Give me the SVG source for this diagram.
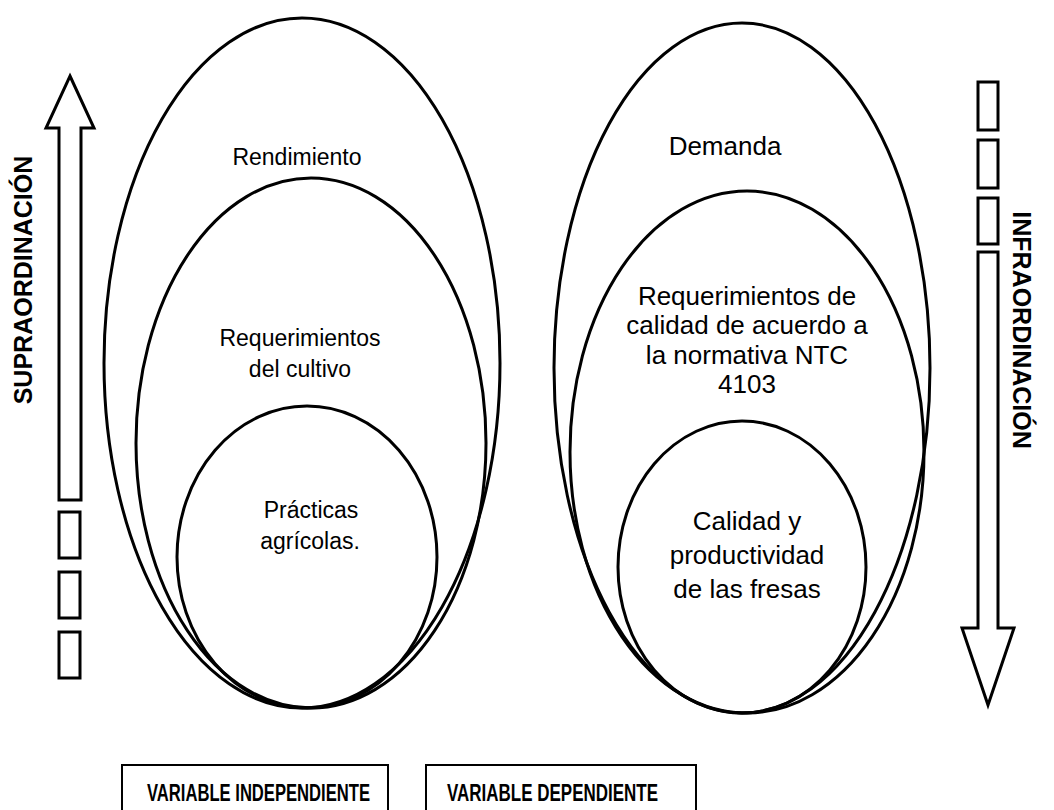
<svg xmlns="http://www.w3.org/2000/svg" width="1054" height="810" viewBox="0 0 1054 810">
<style>
.e{fill:none;stroke:#000;stroke-width:3}
.o{fill:#fff;stroke:#000;stroke-width:3}
.tl{font-family:"Liberation Sans",Arial,sans-serif;font-size:23px;fill:#000;text-anchor:middle}
.tr{font-family:"Liberation Sans",Arial,sans-serif;font-size:26px;fill:#000;text-anchor:middle}
.b{font-family:"Liberation Sans",Arial,sans-serif;font-size:25px;font-weight:bold;fill:#000;text-anchor:middle}
.v{font-family:"Liberation Sans",Arial,sans-serif;font-size:24px;font-weight:bold;fill:#000}
</style>
<rect width="1054" height="810" fill="#fff"/>
<g id="left-set">
<ellipse class="e" cx="302" cy="363" rx="198" ry="345"/>
<ellipse class="e" cx="311" cy="443" rx="175" ry="265"/>
<ellipse class="e" cx="307" cy="557" rx="130" ry="151"/>
<text class="tl" x="297" y="165">Rendimiento</text>
<text class="tl" x="300" y="346">Requerimientos</text>
<text class="tl" x="300" y="377">del cultivo</text>
<text class="tl" x="311" y="518">Prácticas</text>
<text class="tl" x="310" y="549">agrícolas.</text>
</g>
<g id="right-set">
<ellipse class="e" cx="742" cy="368" rx="188" ry="345"/>
<ellipse class="e" cx="747" cy="452" rx="177" ry="261"/>
<ellipse class="e" cx="742" cy="567" rx="124" ry="146"/>
<text class="tr" x="725" y="155">Demanda</text>
<text class="tr" x="747" y="305">Requerimientos de</text>
<text class="tr" x="747" y="334">calidad de acuerdo a</text>
<text class="tr" x="747" y="364">la normativa NTC</text>
<text class="tr" x="747" y="393">4103</text>
<text class="tr" x="747" y="530">Calidad y</text>
<text class="tr" x="747" y="564">productividad</text>
<text class="tr" x="747" y="598">de las fresas</text>
</g>
<g id="supra">
<path class="o" d="M70,76 L94,128 L81,128 L81,500 L59,500 L59,128 L46,128 Z"/>
<rect class="o" x="59" y="512" width="21" height="46"/>
<rect class="o" x="59" y="572" width="21" height="46"/>
<rect class="o" x="59" y="632" width="21" height="46"/>
<text class="b" transform="translate(32,280) rotate(-90)">SUPRAORDINACIÓN</text>
</g>
<g id="infra">
<rect class="o" x="978" y="82" width="20" height="48"/>
<rect class="o" x="978" y="140" width="20" height="48"/>
<rect class="o" x="978" y="198" width="20" height="46"/>
<path class="o" d="M978,252 L998,252 L998,628 L1014,628 L988,705 L962,628 L978,628 Z"/>
<text class="b" transform="translate(1013,330) rotate(90)">INFRAORDINACIÓN</text>
</g>
<g id="var-indep">
<rect x="122" y="765" width="266" height="60" fill="#fff" stroke="#000" stroke-width="2"/>
<text class="v" x="147" y="801" textLength="223" lengthAdjust="spacingAndGlyphs">VARIABLE INDEPENDIENTE</text>
</g>
<g id="var-dep">
<rect x="426" y="765" width="270" height="60" fill="#fff" stroke="#000" stroke-width="2"/>
<text class="v" x="447" y="801" textLength="211" lengthAdjust="spacingAndGlyphs">VARIABLE DEPENDIENTE</text>
</g>
<g id="connectors"/>
</svg>
